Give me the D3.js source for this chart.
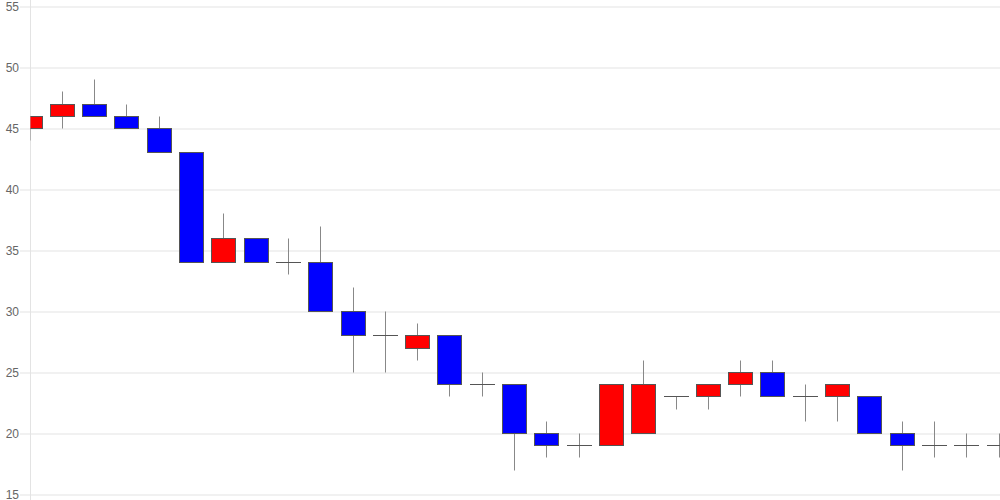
<!DOCTYPE html>
<html>
<head>
<meta charset="utf-8">
<script src="https://cdn.jsdelivr.net/npm/d3@7"></script>
<style>
  html, body { margin: 0; padding: 0; background: #fff; }
  svg { display: block; font-family: "Liberation Sans", Arial, sans-serif; }
</style>
</head>
<body>
<div id="chart"></div>
<script>
// candle data
const opens  = [45, 46, 47, 46, 45, 43, 34, 36, 34, 34, 30, 28, 27, 28, 24, 24, 20, 19, 19, 20, 23, 23, 24, 25, 23, 23, 23, 20, 19, 19, 19];
const closes = [46, 47, 46, 45, 43, 34, 36, 34, 34, 30, 28, 28, 28, 24, 24, 20, 19, 19, 24, 24, 23, 24, 25, 23, 23, 24, 20, 19, 19, 19, 19];
const highs  = [46, 48, 49, 47, 46, 43, 38, 36, 36, 37, 32, 30, 29, 28, 25, 24, 21, 20, 24, 26, 23, 24, 26, 26, 24, 24, 23, 21, 21, 20, 20];
const lows   = [44, 45, 46, 45, 43, 34, 34, 34, 33, 30, 25, 25, 26, 23, 23, 17, 18, 18, 19, 20, 22, 22, 23, 23, 21, 21, 20, 17, 18, 18, 18];
const yTicks = [15, 20, 25, 30, 35, 40, 45, 50, 55];

const width = 1000, height = 500;
const margin = { top: 6, right: 1, bottom: 6, left: 30 };

const candles = opens.map((o, i) => ({ i, open: o, close: closes[i], high: highs[i], low: lows[i] }));

const svg = d3.select('#chart').append('svg')
  .attr('width', width)
  .attr('height', height);

const xScale = d3.scalePoint()
  .domain(candles.map(d => d.i))
  .range([margin.left - 0.5, width - margin.right - 0.5])
  .padding(0);

const yScale = d3.scaleLinear()
  .domain([15, 55])
  .range([height - margin.bottom, margin.top]);

// Grid + y labels
const yAxis = svg.append('g')
  .attr('transform', `translate(${margin.left},0.5)`)
  .call(d3.axisLeft(yScale)
    .tickValues(yTicks)
    .tickSize(-(width - margin.left))
    .tickSizeOuter(0)
    .tickPadding(1)
    .tickFormat(d3.format('d')));
yAxis.select('.domain').remove();
yAxis.selectAll('.tick line')
  .attr('x1', -10)
  .style('stroke', '#e3e3e3');
yAxis.selectAll('.tick text')
  .attr('x', -11)
  .style('font-size', '12px')
  .style('fill', '#666');

// left axis line
svg.append('line')
  .attr('x1', margin.left + 0.5).attr('x2', margin.left + 0.5)
  .attr('y1', 0).attr('y2', height)
  .style('stroke', '#e3e3e3');

// clip to plot area
svg.append('clipPath').attr('id', 'plot')
  .append('rect')
  .attr('x', margin.left + 0.5).attr('y', 0)
  .attr('width', width - margin.left).attr('height', height);

const plot = svg.append('g').attr('clip-path', 'url(#plot)');
const bodyW = 24;
const px = v => Math.round(yScale(v)) + 0.5;

// Wicks
plot.selectAll('.wick')
  .data(candles)
  .enter().append('line')
  .attr('class', 'wick')
  .attr('x1', d => Math.round(xScale(d.i)) + 0.5)
  .attr('x2', d => Math.round(xScale(d.i)) + 0.5)
  .attr('y1', d => px(d.high))
  .attr('y2', d => px(d.low))
  .style('stroke', '#888')
  .style('stroke-width', '1px');

// Bodies
plot.selectAll('.body')
  .data(candles.filter(d => d.open !== d.close))
  .enter().append('rect')
  .attr('class', 'body')
  .attr('x', d => Math.round(xScale(d.i) - bodyW / 2) + 0.5)
  .attr('y', d => px(Math.max(d.open, d.close)))
  .attr('width', bodyW)
  .attr('height', d => px(Math.min(d.open, d.close)) - px(Math.max(d.open, d.close)))
  .style('fill', d => d.close > d.open ? '#ff0000' : '#0000ff')
  .style('stroke', '#555')
  .style('stroke-width', '1px');

// Doji
plot.selectAll('.doji')
  .data(candles.filter(d => d.open === d.close))
  .enter().append('line')
  .attr('class', 'doji')
  .attr('x1', d => Math.round(xScale(d.i) - bodyW / 2))
  .attr('x2', d => Math.round(xScale(d.i) + bodyW / 2) + 1)
  .attr('y1', d => px(d.open))
  .attr('y2', d => px(d.open))
  .style('stroke', '#555')
  .style('stroke-width', '1px');
</script>
</body>
</html>
